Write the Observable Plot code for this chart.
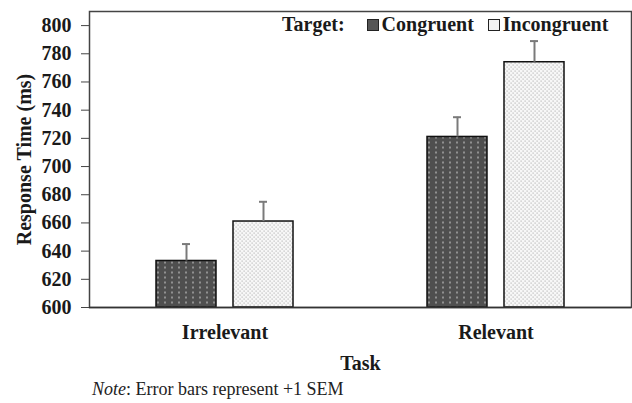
<!DOCTYPE html>
<html>
<head>
<meta charset="utf-8">
<script src="https://cdn.jsdelivr.net/npm/d3@7"></script>
<script src="https://cdn.jsdelivr.net/npm/@observablehq/plot@0.6"></script>
<style>
  html, body { margin: 0; padding: 0; background: #fff; }
  #wrap { position: relative; width: 632px; height: 403px; font-family: "Liberation Serif", "Times New Roman", serif; }
  #legend { position: absolute; top: 13px; left: 282px; font-size: 20px; font-weight: bold; color: #1a1a1a; white-space: nowrap; display: flex; align-items: center; }
  .sw { display: inline-block; width: 10px; height: 10px; border: 1.5px solid #222; margin-right: 3px; }
  #note { font-size: 18px; color: #222; padding-left: 92px; line-height: 24px; margin-top: 5px; }
</style>
</head>
<body>
<svg width="0" height="0" style="position:absolute">
  <defs>
    <pattern id="darkDots" width="7" height="5" patternUnits="userSpaceOnUse">
      <rect width="7" height="5" fill="#4f4f4f"></rect>
      <rect x="2" y="1.5" width="2" height="2" fill="#909090"></rect>
    </pattern>
    <pattern id="lightDots" width="4" height="4" patternUnits="userSpaceOnUse">
      <rect width="4" height="4" fill="#f7f7f7"></rect>
      <rect x="0.5" y="0.5" width="1.2" height="1.2" fill="#b8b8b8"></rect>
      <rect x="2.5" y="2.5" width="1.2" height="1.2" fill="#b8b8b8"></rect>
    </pattern>
  </defs>
</svg>
<div id="wrap">
  <div id="chart"></div>
  <div id="legend">
    <span style="margin-right:22px">Target:</span>
    <span class="sw" style="background:#555"></span><span style="margin-right:14px">Congruent</span>
    <span class="sw" style="background:#f2f2f2"></span><span>Incongruent</span>
  </div>
  <div id="note"><i>Note</i>: Error bars represent +1 SEM</div>
</div>
<script>
const tasks = ["Irrelevant", "Relevant"];
const targets = ["Congruent", "Incongruent"];
const congruentRT = [633, 721];
const incongruentRT = [661, 774];
const congruentSEM = [12, 14];
const incongruentSEM = [14, 15];
const yTicks = [600, 620, 640, 660, 680, 700, 720, 740, 760, 780, 800];

const rows = [];
tasks.forEach((t, i) => {
  rows.push({task: t, target: targets[0], rt: congruentRT[i], sem: congruentSEM[i]});
  rows.push({task: t, target: targets[1], rt: incongruentRT[i], sem: incongruentSEM[i]});
});

const fills = {Congruent: "url(#darkDots)", Incongruent: "url(#lightDots)"};

const chart = Plot.plot({
  width: 632,
  height: 372,
  marginLeft: 88,
  marginRight: 1,
  marginTop: 11,
  marginBottom: 65,
  style: {fontFamily: "Liberation Serif, Times New Roman, serif", fontSize: "20px", fontWeight: "bold", color: "#1a1a1a", background: "transparent"},
  fx: {domain: tasks, padding: 0},
  x: {domain: targets, paddingInner: 0.218, paddingOuter: 0.85, axis: null},
  y: {domain: [600, 810]},
  marks: [
    Plot.barY(rows, {fx: "task", x: "target", y1: 600, y2: "rt", fill: d => fills[d.target], stroke: "#111", strokeWidth: 1.5}),
    Plot.ruleX(rows, {fx: "task", x: "target", y1: "rt", y2: d => d.rt + d.sem, stroke: "#7a7a7a", strokeWidth: 2}),
    Plot.tickY(rows, {fx: "task", x: "target", y: d => d.rt + d.sem, stroke: "#7a7a7a", strokeWidth: 2, insetLeft: 26, insetRight: 26}),
    Plot.frame({facet: "super", stroke: "#444", strokeWidth: 1.5}),
    Plot.ruleY([600], {stroke: "#333", strokeWidth: 1.5}),
    Plot.axisY({ticks: yTicks, tickSize: 8, tickPadding: 10, stroke: "#444", label: "Response Time (ms)", labelAnchor: "center", labelOffset: 73, labelArrow: "none"}),
    Plot.axisFx({anchor: "bottom", tickSize: 0, tickPadding: 17, label: "Task", labelAnchor: "center", labelOffset: 62})
  ]
});
document.getElementById("chart").appendChild(chart);
</script>
</body>
</html>
